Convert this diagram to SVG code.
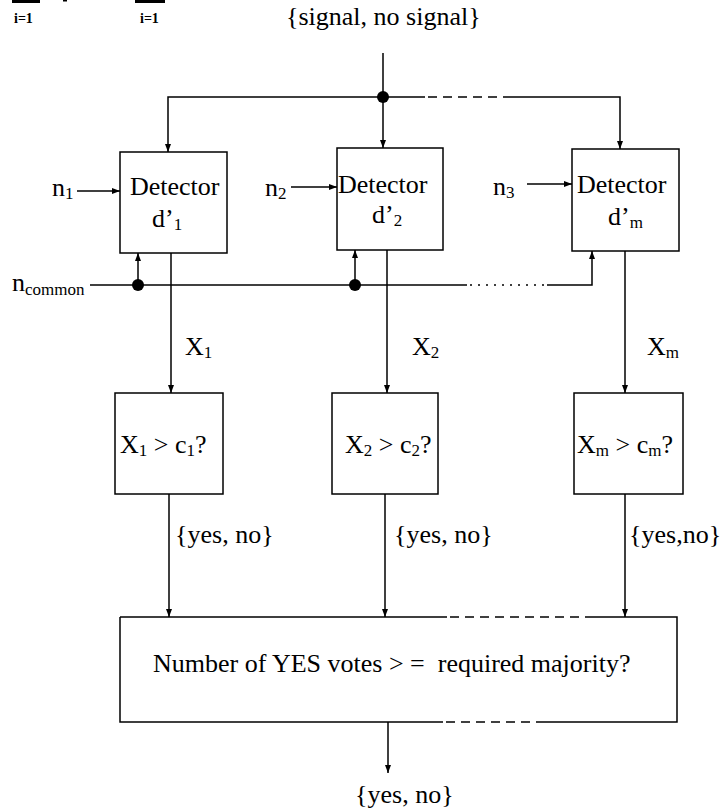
<svg xmlns="http://www.w3.org/2000/svg" width="720" height="808" viewBox="0 0 720 808">
<style>
.ln{stroke:#000;stroke-width:1.5;fill:none}
.dash{stroke:#000;stroke-width:1.5;fill:none;stroke-dasharray:9 6}
.dot{stroke:#000;stroke-width:1.5;fill:none;stroke-dasharray:2 6}
.bx{fill:#fff;stroke:#000;stroke-width:1.5}
.t{font-family:"Liberation Serif","Times New Roman",serif;font-size:26px;fill:#000}
.s{font-size:17px}
.pre{white-space:pre}
.sm{font-family:"Liberation Serif","Times New Roman",serif;font-size:14px;font-weight:bold;fill:#000}
</style>
<defs>
<marker id="ah" markerWidth="8" markerHeight="6" refX="8" refY="3" orient="auto" markerUnits="userSpaceOnUse"><path d="M0,0 L8,3 L0,6 z" fill="#000"/></marker>
</defs>

<g id="fragment">
<rect x="12" y="0" width="28" height="3" fill="#000"/>
<rect x="135" y="0" width="30" height="3" fill="#000"/>
<rect x="63" y="0" width="4" height="1.5" fill="#000"/>
<text class="sm" x="14" y="23">i=1</text>
<text class="sm" x="140" y="23">i=1</text>
</g>

<g id="input-label"><text class="t" x="286" y="25">{signal, no signal}</text></g>

<g id="det1">
<rect class="bx" x="120" y="152" width="107" height="101"/>
<text class="t" x="130" y="195">Detector</text>
<text class="t" x="152" y="227">d’<tspan class="s" dy="3">1</tspan></text>
</g>
<g id="det2">
<rect class="bx" x="337" y="148" width="106" height="102"/>
<text class="t" x="338" y="193">Detector</text>
<text class="t" x="372" y="223">d’<tspan class="s" dy="3">2</tspan></text>
</g>
<g id="detm">
<rect class="bx" x="572" y="149" width="107" height="102"/>
<text class="t" x="577" y="193">Detector</text>
<text class="t" x="608" y="225">d’<tspan class="s" dy="3">m</tspan></text>
</g>

<g id="n1"><text class="t" x="52" y="196">n<tspan class="s" dy="3">1</tspan></text></g>
<g id="n2"><text class="t" x="265" y="196">n<tspan class="s" dy="3">2</tspan></text></g>
<g id="n3"><text class="t" x="493" y="195">n<tspan class="s" dy="3">3</tspan></text></g>
<g id="ncommon"><text class="t" x="12" y="291">n<tspan class="s" dy="4">common</tspan></text></g>

<g id="cmp1">
<rect class="bx" x="115" y="393" width="108" height="101"/>
<text class="t" x="120" y="453">X<tspan class="s" dy="3">1</tspan><tspan dy="-3"> &gt; c</tspan><tspan class="s" dy="3">1</tspan><tspan dy="-3">?</tspan></text>
</g>
<g id="cmp2">
<rect class="bx" x="332" y="393" width="106" height="101"/>
<text class="t" x="345" y="453">X<tspan class="s" dy="3">2</tspan><tspan dy="-3"> &gt; c</tspan><tspan class="s" dy="3">2</tspan><tspan dy="-3">?</tspan></text>
</g>
<g id="cmpm">
<rect class="bx" x="574" y="393" width="109" height="101"/>
<text class="t" x="577" y="453">X<tspan class="s" dy="3">m</tspan><tspan dy="-3"> &gt; c</tspan><tspan class="s" dy="3">m</tspan><tspan dy="-3">?</tspan></text>
</g>

<g id="vote">
<rect x="120" y="617" width="557" height="105" fill="#fff"/>
<path class="ln" d="M120,617 H447 M593,617 H677 V722 H540 M443,722 H120 V617"/>
<path class="dash" d="M450,617 H593 M446,722 H540"/>
<text class="t pre" x="153" y="672">Number of YES votes &gt; =  required majority?</text>
</g>

<g id="output-label"><text class="t" x="355" y="803">{yes, no}</text></g>

<g id="connectors">
<path class="ln" d="M383,53 V148" marker-end="url(#ah)"/>
<path class="ln" d="M425,97 H168 V152" marker-end="url(#ah)"/>
<path class="dash" d="M428,97 H503"/>
<path class="ln" d="M503,97 H620 V149" marker-end="url(#ah)"/>
<circle cx="383" cy="97" r="6" fill="#000"/>

<path class="ln" d="M77,191 H120" marker-end="url(#ah)"/>
<path class="ln" d="M291,187 H337" marker-end="url(#ah)"/>
<path class="ln" d="M527,184 H572" marker-end="url(#ah)"/>

<path class="ln" d="M90,285 H467"/>
<path class="dot" d="M470,285 H547"/>
<path class="ln" d="M547,285 H592 V251" marker-end="url(#ah)"/>
<path class="ln" d="M138,285 V253" marker-end="url(#ah)"/>
<path class="ln" d="M355,285 V250" marker-end="url(#ah)"/>
<circle cx="138" cy="285" r="6" fill="#000"/>
<circle cx="355" cy="285" r="6" fill="#000"/>

<path class="ln" d="M171,253 V393" marker-end="url(#ah)"/>
<path class="ln" d="M387,250 V393" marker-end="url(#ah)"/>
<path class="ln" d="M625,251 V393" marker-end="url(#ah)"/>
<text class="t" x="185" y="355">X<tspan class="s" dy="3">1</tspan></text>
<text class="t" x="412" y="355">X<tspan class="s" dy="3">2</tspan></text>
<text class="t" x="647" y="355">X<tspan class="s" dy="3">m</tspan></text>

<path class="ln" d="M169,494 V617" marker-end="url(#ah)"/>
<path class="ln" d="M385,494 V617" marker-end="url(#ah)"/>
<path class="ln" d="M625,494 V617" marker-end="url(#ah)"/>
<text class="t" x="175" y="543">{yes, no}</text>
<text class="t" x="394" y="543">{yes, no}</text>
<text class="t" x="629" y="543">{yes,no}</text>

<path class="ln" d="M388,722 V773" marker-end="url(#ah)"/>
</g>
</svg>
